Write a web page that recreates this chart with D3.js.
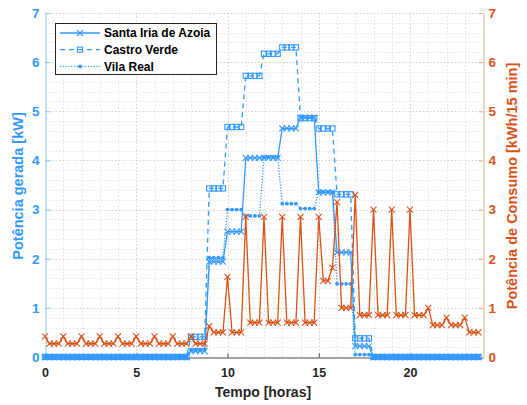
<!DOCTYPE html>
<html>
<head>
<meta charset="utf-8">
<script src="https://cdn.jsdelivr.net/npm/d3@7"></script>
<style>
  body { margin: 0; background: #fff; }
  svg { display: block; font-family: "Liberation Sans", Arial, Helvetica, sans-serif; font-weight: bold; }
</style>
</head>
<body>
<svg id="chart" width="527" height="405"></svg>
<script>
// Quarter-hour sample times over one day (hours)
const times = d3.range(96).map(i => i * 0.25);

// Generated power [kW], one value per 15-minute interval
const santaIria = [
  0, 0, 0, 0,  0, 0, 0, 0,
  0, 0, 0, 0,  0, 0, 0, 0,
  0, 0, 0, 0,  0, 0, 0, 0,
  0, 0, 0, 0,  0, 0, 0, 0,
  0.12, 0.12, 0.12, 0.12,  1.94, 1.94, 1.94, 1.94,
  2.55, 2.55, 2.55, 2.55,  4.05, 4.05, 4.05, 4.05,
  4.05, 4.05, 4.05, 4.05,  4.65, 4.65, 4.65, 4.65,
  4.87, 4.87, 4.87, 4.87,  3.35, 3.35, 3.35, 3.35,
  2.13, 2.13, 2.13, 2.13,  0.22, 0.22, 0.22, 0.22,
  0, 0, 0, 0,  0, 0, 0, 0,
  0, 0, 0, 0,  0, 0, 0, 0,
  0, 0, 0, 0,  0, 0, 0, 0
];
const castroVerde = [
  0, 0, 0, 0,  0, 0, 0, 0,
  0, 0, 0, 0,  0, 0, 0, 0,
  0, 0, 0, 0,  0, 0, 0, 0,
  0, 0, 0, 0,  0, 0, 0, 0,
  0.41, 0.41, 0.41, 0.41,  3.43, 3.43, 3.43, 3.43,
  4.68, 4.68, 4.68, 4.68,  5.72, 5.72, 5.72, 5.72,
  6.17, 6.17, 6.17, 6.17,  6.30, 6.30, 6.30, 6.30,
  4.86, 4.86, 4.86, 4.86,  4.65, 4.65, 4.65, 4.65,
  3.31, 3.31, 3.31, 3.31,  0.38, 0.38, 0.38, 0.38,
  0, 0, 0, 0,  0, 0, 0, 0,
  0, 0, 0, 0,  0, 0, 0, 0,
  0, 0, 0, 0,  0, 0, 0, 0
];
const vilaReal = [
  0, 0, 0, 0,  0, 0, 0, 0,
  0, 0, 0, 0,  0, 0, 0, 0,
  0, 0, 0, 0,  0, 0, 0, 0,
  0, 0, 0, 0,  0, 0, 0, 0,
  0.15, 0.15, 0.15, 0.15,  2.02, 2.02, 2.02, 2.02,
  3.00, 3.00, 3.00, 3.00,  2.87, 2.87, 2.87, 2.87,
  4.07, 4.07, 4.07, 4.07,  3.12, 3.12, 3.12, 3.12,
  3.02, 3.02, 3.02, 3.02,  3.36, 3.36, 3.36, 3.36,
  1.49, 1.49, 1.49, 1.49,  0.05, 0.05, 0.05, 0.05,
  0, 0, 0, 0,  0, 0, 0, 0,
  0, 0, 0, 0,  0, 0, 0, 0,
  0, 0, 0, 0,  0, 0, 0, 0
];

// Consumption [kWh/15 min]
const consumo = [
  0.42, 0.27, 0.27, 0.27,  0.42, 0.27, 0.27, 0.27,
  0.42, 0.27, 0.27, 0.27,  0.42, 0.27, 0.27, 0.27,
  0.42, 0.27, 0.27, 0.27,  0.42, 0.27, 0.27, 0.27,
  0.42, 0.27, 0.27, 0.27,  0.42, 0.27, 0.27, 0.27,
  0.42, 0.27, 0.27, 0.27,  0.63, 0.50, 0.50, 0.50,
  1.63, 0.50, 0.50, 0.50,  2.85, 0.70, 0.70, 0.70,
  2.85, 0.70, 0.70, 0.70,  2.85, 0.70, 0.70, 0.70,
  2.85, 0.70, 0.70, 0.70,  2.85, 1.55, 1.55, 1.82,
  3.15, 1.00, 1.00, 1.00,  3.30, 0.85, 0.85, 0.85,
  3.00, 0.85, 0.85, 0.85,  3.00, 0.85, 0.85, 0.85,
  3.00, 0.85, 0.85, 0.85,  1.00, 0.65, 0.65, 0.65,
  0.80, 0.65, 0.65, 0.65,  0.80, 0.50, 0.50, 0.50
];

const xTicks = [0, 5, 10, 15, 20];
const yTicks = [0, 1, 2, 3, 4, 5, 6, 7];

const seriesNames = ["Santa Iria de Azoia", "Castro Verde", "Vila Real"];
const xLabel = "Tempo [horas]";
const yLeftLabel = "Potência gerada [kW]";
const yRightLabel = "Potência de Consumo [kWh/15 min]";

const BLUE = "#3399ff";
const ORANGE = "#d95319";

const svg = d3.select("#chart");
const plotLeft = 45, plotRight = 483, plotTop = 13, plotBottom = 357;

const x = d3.scaleLinear().domain([0, 24]).range([plotLeft, plotRight]);
const yL = d3.scaleLinear().domain([0, 7]).range([plotBottom, plotTop]);
const yR = d3.scaleLinear().domain([0, 7]).range([plotBottom, plotTop]);

// Grid: minor lines every hour / 0.2, major on the tick values
const grid = svg.append("g");
d3.range(1, 24).forEach(h => {
  grid.append("line")
    .attr("x1", Math.round(x(h)) + 0.5).attr("x2", Math.round(x(h)) + 0.5)
    .attr("y1", plotTop).attr("y2", plotBottom)
    .attr("stroke", h % 5 === 0 ? "#cfcfcf" : "#e2e2e2")
    .attr("stroke-width", 1)
    .attr("stroke-dasharray", "1.5,2");
});
d3.range(1, 36).forEach(k => {
  const v = k * 0.2;
  const major = k % 5 === 0;
  grid.append("line")
    .attr("x1", plotLeft).attr("x2", plotRight)
    .attr("y1", Math.round(yL(v)) + 0.5).attr("y2", Math.round(yL(v)) + 0.5)
    .attr("stroke", major ? "#cfcfcf" : "#e4e4e4")
    .attr("stroke-width", 1)
    .attr("stroke-dasharray", "1.5,2");
});

// Axes
const axisFont = "'Liberation Sans', Arial, sans-serif";
const intFmt = d3.format("d");
const axB = svg.append("g").attr("transform", `translate(0,${plotBottom + 0.5})`)
  .call(d3.axisBottom(x).tickValues(xTicks).tickFormat(intFmt).tickSizeInner(-4).tickSizeOuter(0).tickPadding(11));
axB.select(".domain").attr("stroke", "#4a4a4a");
axB.selectAll(".tick line").attr("stroke", "#4a4a4a");
axB.selectAll(".tick text").attr("fill", "#262626").style("font-size", "12.5px").style("font-weight", "bold")
  .style("font-family", axisFont);

const axL = svg.append("g").attr("transform", `translate(${plotLeft + 0.5},0)`)
  .call(d3.axisLeft(yL).tickValues(yTicks).tickFormat(intFmt).tickSizeInner(-5).tickSizeOuter(0).tickPadding(6));
axL.select(".domain").attr("stroke", "#8cc3f5");
axL.selectAll(".tick line").attr("stroke", "#8cc3f5");
axL.selectAll(".tick text").attr("fill", BLUE).style("font-size", "13.5px").style("font-weight", "bold")
  .style("font-family", axisFont);

const axR = svg.append("g").attr("transform", `translate(${plotRight + 0.5},0)`)
  .call(d3.axisRight(yR).tickValues(yTicks).tickFormat(intFmt).tickSizeInner(-5).tickSizeOuter(0).tickPadding(5));
axR.select(".domain").attr("stroke", "#dfae8e");
axR.selectAll(".tick line").attr("stroke", "#dfae8e");
axR.selectAll(".tick text").attr("fill", ORANGE).style("font-size", "13.5px").style("font-weight", "bold")
  .style("font-family", axisFont);

// Axis titles
svg.append("text").attr("x", 263).attr("y", 397).attr("text-anchor", "middle")
  .attr("fill", "#262626").style("font-size", "14px").text(xLabel);
svg.append("text").attr("transform", "translate(23,186) rotate(-90)").attr("text-anchor", "middle")
  .attr("fill", BLUE).style("font-size", "14.5px").text(yLeftLabel);
svg.append("text").attr("transform", "translate(517,186) rotate(-90)").attr("text-anchor", "middle")
  .attr("fill", ORANGE).style("font-size", "14.5px").text(yRightLabel);

// Marker drawers
function crossMarker(g, cx, cy, color) {
  g.append("path").attr("d", `M${cx - 3},${cy - 3}L${cx + 3},${cy + 3}M${cx - 3},${cy + 3}L${cx + 3},${cy - 3}`)
    .attr("stroke", color).attr("stroke-width", 1.1).attr("fill", "none");
}
function squareMarker(g, cx, cy, color) {
  g.append("rect").attr("x", cx - 2.6).attr("y", cy - 2.6).attr("width", 5.2).attr("height", 5.2)
    .attr("stroke", color).attr("stroke-width", 1.1).attr("fill", "none");
}
function dotMarker(g, cx, cy, color) {
  g.append("circle").attr("cx", cx).attr("cy", cy).attr("r", 1.9).attr("fill", color);
}

const series = [
  { name: seriesNames[0], values: santaIria, dash: null, marker: crossMarker, color: BLUE, y: yL },
  { name: seriesNames[1], values: castroVerde, dash: "5,4", marker: squareMarker, color: BLUE, y: yL },
  { name: seriesNames[2], values: vilaReal, dash: "1.2,1.6", marker: dotMarker, color: BLUE, y: yL },
  { name: "Consumo", values: consumo, dash: null, marker: crossMarker, color: ORANGE, y: yR }
];

const plot = svg.append("g");
series.forEach(s => {
  const g = plot.append("g");
  const line = d3.line().x((d, i) => x(times[i])).y(d => s.y(d));
  g.append("path").datum(s.values).attr("d", line)
    .attr("fill", "none").attr("stroke", s.color).attr("stroke-width", 1.3)
    .attr("stroke-dasharray", s.dash);
  s.values.forEach((v, i) => s.marker(g, x(times[i]), s.y(v), s.color));
});

// Legend
const lg = svg.append("g");
lg.append("rect").attr("x", 55.5).attr("y", 23.5).attr("width", 161).attr("height", 51)
  .attr("fill", "#fff").attr("stroke", "#262626").attr("stroke-width", 1);
series.slice(0, 3).forEach((s, k) => {
  const cy = 33 + k * 16.7;
  lg.append("line").attr("x1", 60).attr("x2", 100).attr("y1", cy).attr("y2", cy)
    .attr("stroke", s.color).attr("stroke-width", 1.3).attr("stroke-dasharray", s.dash);
  s.marker(lg, 80, cy, s.color);
  lg.append("text").attr("x", 104).attr("y", cy).attr("dy", "0.36em")
    .attr("fill", "#000").style("font-size", "12px").text(s.name);
});
</script>
</body>
</html>
